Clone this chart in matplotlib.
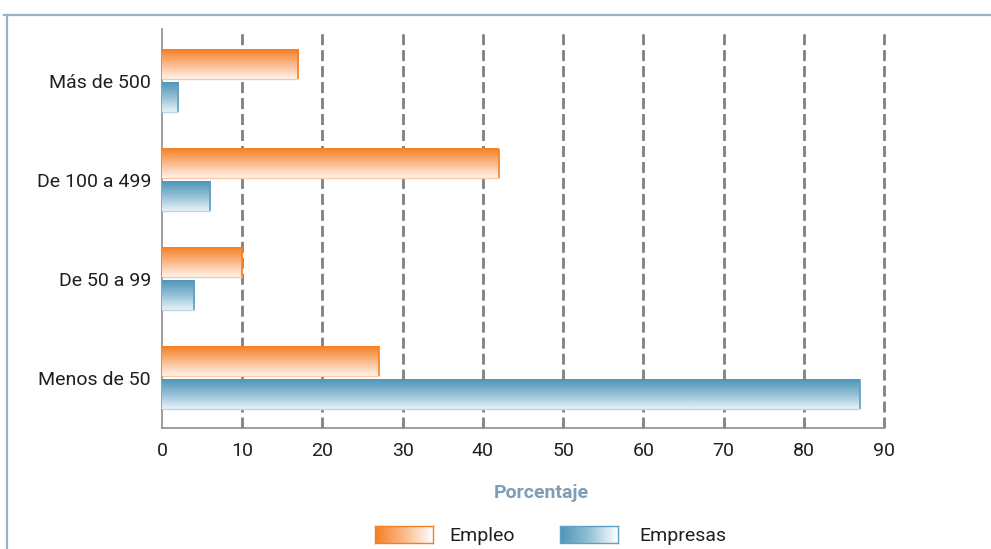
import numpy as np
import matplotlib
matplotlib.use("Agg")
import matplotlib.pyplot as plt
from matplotlib.colors import LinearSegmentedColormap
from matplotlib.lines import Line2D

categories = ["Menos de 50", "De 50 a 99", "De 100 a 499", "Más de 500"]
empleo = [27, 10, 42, 17]
empresas = [87, 4, 6, 2]
xticks = [0, 10, 20, 30, 40, 50, 60, 70, 80, 90]
series_names = ["Empleo", "Empresas"]

plt.rcParams['font.family'] = ['Roboto', 'DejaVu Sans']
plt.rcParams['lines.scale_dashes'] = False

W, H = 991, 549
fig = plt.figure(figsize=(W / 100, H / 100), dpi=100)
ax = fig.add_axes([162 / W, 1 - 428 / H, (884 - 162) / W, (428 - 29) / H])

orange_cmap = LinearSegmentedColormap.from_list("o", ["#FFF4EC", "#FBB98A", "#F47F22"])
blue_cmap = LinearSegmentedColormap.from_list("b", ["#EAF3F8", "#93C0D6", "#4E95B8"])
grad_v = np.linspace(0, 1, 256).reshape(-1, 1)

y = np.arange(len(categories))
h = 0.30
off = 0.167

bars_e = ax.barh(y + off, empleo, height=h, facecolor="none", edgecolor="none", zorder=3)
bars_p = ax.barh(y - off, empresas, height=h, facecolor="none", edgecolor="none", zorder=3)

def paint(bars, cmap, edge_right, edge_bottom):
    for b in bars:
        x0, y0, w, hh = b.get_x(), b.get_y(), b.get_width(), b.get_height()
        ax.imshow(grad_v, extent=[x0, x0 + w, y0, y0 + hh], cmap=cmap, aspect='auto',
                  origin='lower', zorder=3, interpolation='bilinear')
        ax.plot([x0 + w, x0 + w], [y0, y0 + hh], color=edge_right, lw=1.2, zorder=4,
                solid_capstyle='butt')
        ax.plot([x0, x0 + w], [y0, y0], color=edge_bottom, lw=1.0, zorder=4,
                solid_capstyle='butt')

paint(bars_e, orange_cmap, "#F47F22", "#FCC9A4")
paint(bars_p, blue_cmap, "#5E9FC4", "#BBD7E6")

ax.set_xlim(0, 90)
ax.set_ylim(-0.511, 3.527)

for xv in xticks[1:]:
    ax.plot([xv, xv], [-0.511, 3.50], color="#808080", lw=2.0,
            linestyle=(0, (7.9, 3.6)), zorder=1, clip_on=False)

for s in ["top", "right"]:
    ax.spines[s].set_visible(False)
for s in ["left", "bottom"]:
    ax.spines[s].set_color("#8C8C8C")
    ax.spines[s].set_linewidth(1.2)

ax.set_xticks(xticks)
ax.set_yticks(y)
ax.set_yticklabels(categories)
ax.tick_params(axis='both', length=0, labelsize=14, colors="#231F20")
ax.tick_params(axis='x', pad=10)
ax.tick_params(axis='y', pad=8)

fig.text(541 / W, 1 - 493 / H, "Porcentaje", ha='center', va='center',
         fontsize=14, fontweight='bold', color="#7F9DB5")

# legend
grad_h = np.linspace(0, 1, 256).reshape(1, -1)
leg_items = [(375, "#F47F22", LinearSegmentedColormap.from_list("lo", ["#F47F22", "#FBB98A", "#FFFFFF"]), 449),
             (560, "#5E9FC4", LinearSegmentedColormap.from_list("lb", ["#4E95B8", "#93C0D6", "#FFFFFF"]), 639)]
for (lx, ec, cm, tx), name in zip(leg_items, series_names):
    lax = fig.add_axes([lx / W, 1 - 543 / H, 58 / W, 17 / H])
    lax.imshow(grad_h, cmap=cm, aspect='auto', extent=[0, 1, 0, 1], interpolation='bilinear')
    lax.set_xlim(0, 1)
    lax.set_ylim(0, 1)
    lax.set_xticks([])
    lax.set_yticks([])
    for s in lax.spines.values():
        s.set_color(ec)
        s.set_linewidth(1.0)
    fig.text(tx / W, 1 - 536 / H, name, ha='left', va='center', fontsize=14, color="#231F20")

# outer frame
fig.add_artist(Line2D([4 / W, 1], [1 - 15 / H, 1 - 15 / H], color="#94B3C6", lw=1.6,
                      transform=fig.transFigure))
fig.add_artist(Line2D([7 / W, 7 / W], [0, 1 - 15 / H], color="#94B3C6", lw=1.6,
                      transform=fig.transFigure))

fig.savefig("out.png", dpi=100)
